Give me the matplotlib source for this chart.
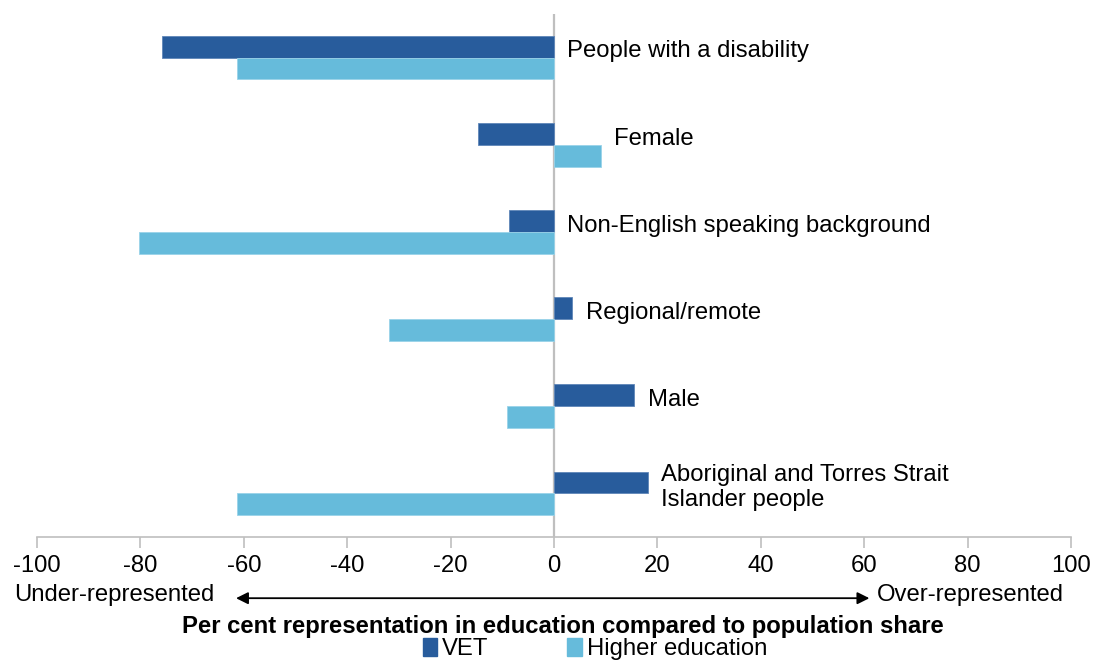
import numpy as np
import matplotlib.pyplot as plt
from matplotlib.patches import Patch

plt.rcParams['font.family'] = ['Liberation Sans', 'DejaVu Sans']

categories = ['People with a disability', 'Female', 'Non-English speaking background',
              'Regional/remote', 'Male', 'Aboriginal and Torres Strait\nIslander people']
vet = [-75.9, -14.7, -8.8, 3.5, 15.5, 18.1]
higher_ed = [-61.3, 9.1, -80.2, -31.9, -9.1, -61.3]
ticks = [-100, -80, -60, -40, -20, 0, 20, 40, 60, 80, 100]

vet_col = '#285C9C'
he_col = '#66BBDB'
fs = 17.2

fig = plt.figure(figsize=(10.94, 6.62), dpi=100)
ax = fig.add_axes([37 / 1094, 125 / 662, 1034 / 1094, 523 / 662])

y = np.arange(len(categories))
h = 0.25
ax.barh(y - h / 2, vet, height=h, color=vet_col, edgecolor='#5F86B8', linewidth=0.6, label='VET')
ax.barh(y + h / 2, higher_ed, height=h, color=he_col, edgecolor='#9AD3E9', linewidth=0.6,
        label='Higher education')

# category labels sit just right of the longest positive bar (or the zero line)
for i, name in enumerate(categories):
    xr = max(0, vet[i], higher_ed[i])
    ax.text(xr + 2.6, i - 0.07, name, fontsize=fs, va='center', ha='left', linespacing=1.2)

ax.axvline(0, color='#BFBFBF', lw=1.6, zorder=0)
ax.set_xlim(-100, 100)
ax.set_ylim(len(categories) - 0.5, -0.5)
ax.set_xticks(ticks)
ax.set_xticklabels([str(t) for t in ticks], fontsize=fs)
ax.set_yticks([])
for s in ['top', 'right', 'left']:
    ax.spines[s].set_visible(False)
ax.spines['bottom'].set_color('#BFBFBF')
ax.spines['bottom'].set_linewidth(1.2)
ax.tick_params(axis='x', direction='out', length=8, width=1.2, color='#BFBFBF', pad=5)

# representation arrow below tick labels
ax.annotate('', xy=(61, -0.117), xytext=(-61.5, -0.117),
            xycoords=('data', 'axes fraction'), textcoords=('data', 'axes fraction'),
            arrowprops=dict(arrowstyle='<|-|>', color='black', lw=1.3,
                            mutation_scale=18, shrinkA=0, shrinkB=0))
ax.text(-104.5, -0.11, 'Under-represented', transform=ax.get_xaxis_transform(),
        fontsize=fs, va='center', ha='left')
ax.text(62.5, -0.11, 'Over-represented', transform=ax.get_xaxis_transform(),
        fontsize=fs, va='center', ha='left')

fig.text(563 / 1094, 1 - 627 / 662,
         'Per cent representation in education compared to population share',
         fontsize=fs, fontweight='bold', ha='center', va='center')

handles = [Patch(color=vet_col), Patch(color=he_col)]
fig.legend(handles, ['VET', 'Higher education'], loc='center',
           bbox_to_anchor=(595 / 1094, 1 - 649 / 662), ncol=2, frameon=False,
           fontsize=fs, handlelength=0.6, handleheight=0.8, handletextpad=0.2,
           columnspacing=3.3, borderpad=0.1)

fig.savefig('out.png', dpi=100)
